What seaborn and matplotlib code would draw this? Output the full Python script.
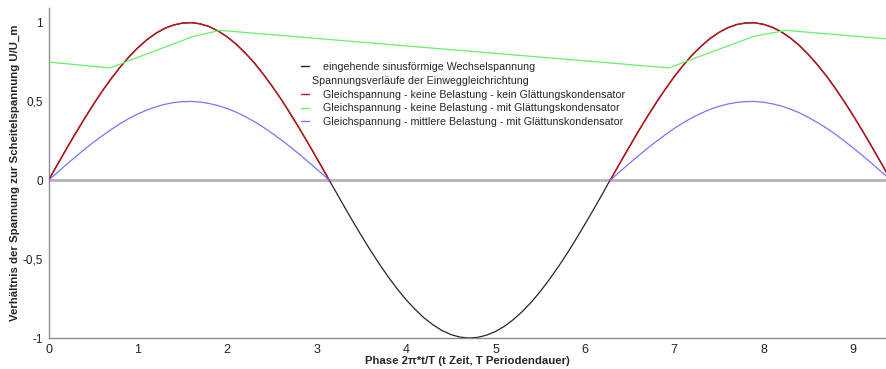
import pandas as pd
import matplotlib
matplotlib.use("Agg")
import matplotlib.pyplot as plt
import seaborn as sns
from matplotlib.lines import Line2D
from matplotlib.ticker import MultipleLocator, FuncFormatter

# -------------------
# Data
# -------------------
phase = [0.0, 0.1, 0.2, 0.3, 0.4, 0.5, 0.6, 0.7, 0.8, 0.9, 1.0, 1.1, 1.2, 1.3,
         1.4, 1.5, 1.6, 1.7, 1.8, 1.9, 2.0, 2.1, 2.2, 2.3, 2.4, 2.5, 2.6, 2.7,
         2.8, 2.9, 3.0, 3.1, 3.14,
         3.2, 3.3, 3.4, 3.5, 3.6, 3.7, 3.8, 3.9, 4.0, 4.1, 4.2, 4.3, 4.4, 4.5,
         4.6, 4.7, 4.8, 4.9, 5.0, 5.1, 5.2, 5.3, 5.4, 5.5, 5.6, 5.7, 5.8, 5.9,
         6.0, 6.1, 6.2,
         6.28, 6.3, 6.4, 6.5, 6.6, 6.7, 6.8, 6.9, 7.0, 7.1, 7.2, 7.3, 7.4, 7.5,
         7.6, 7.7, 7.8, 7.9, 8.0, 8.1, 8.2, 8.3, 8.4, 8.5, 8.6, 8.7, 8.8, 8.9,
         9.0, 9.1, 9.2, 9.3, 9.4]

# positive half waves (0..pi and 2pi..3pi)
red_half1 = [0.000, 0.100, 0.199, 0.296, 0.389, 0.479, 0.565, 0.644, 0.717,
             0.783, 0.841, 0.891, 0.932, 0.964, 0.985, 0.997, 1.000, 0.992,
             0.974, 0.946, 0.909, 0.863, 0.808, 0.746, 0.675, 0.598, 0.516,
             0.427, 0.335, 0.239, 0.141, 0.042, 0.000]
red_half2 = [0.000, 0.017, 0.117, 0.215, 0.312, 0.405, 0.494, 0.578, 0.657,
             0.729, 0.794, 0.850, 0.899, 0.938, 0.968, 0.988, 0.998, 0.999,
             0.989, 0.970, 0.941, 0.902, 0.855, 0.798, 0.734, 0.663, 0.585,
             0.501, 0.412, 0.319, 0.223, 0.124, 0.025]
neg_half = [-0.058, -0.158, -0.256, -0.351, -0.443, -0.530, -0.612, -0.688,
            -0.757, -0.818, -0.872, -0.916, -0.952, -0.978, -0.994, -1.000,
            -0.996, -0.982, -0.959, -0.926, -0.883, -0.832, -0.773, -0.706,
            -0.631, -0.551, -0.465, -0.374, -0.279, -0.182, -0.083]
blue_half1 = [0.000, 0.050, 0.100, 0.148, 0.195, 0.240, 0.282, 0.322, 0.359,
              0.392, 0.421, 0.446, 0.466, 0.482, 0.493, 0.499, 0.500, 0.496,
              0.487, 0.473, 0.455, 0.432, 0.404, 0.373, 0.338, 0.299, 0.258,
              0.214, 0.168, 0.120, 0.071, 0.021, 0.000]
blue_half2 = [0.000, 0.009, 0.059, 0.108, 0.156, 0.203, 0.247, 0.289, 0.329,
              0.365, 0.397, 0.425, 0.450, 0.469, 0.484, 0.494, 0.499, 0.500,
              0.495, 0.485, 0.471, 0.451, 0.428, 0.399, 0.367, 0.332, 0.293,
              0.251, 0.206, 0.160, 0.112, 0.062, 0.013]
gap = [None] * len(neg_half)

ac_input = red_half1 + neg_half + red_half2
no_load_no_cap = red_half1 + gap + red_half2
mid_load_cap = blue_half1 + gap + blue_half2

cap_phase = [0.0, 0.69, 1.62, 1.92, 6.94, 7.89, 8.25, 9.42]
no_load_cap = [0.75, 0.713, 0.913, 0.951, 0.713, 0.913, 0.951, 0.895]

labels = [
    "eingehende sinusförmige Wechselspannung",
    "Spannungsverläufe der Einweggleichrichtung",
    "Gleichspannung - keine Belastung - kein Glättungskondensator",
    "Gleichspannung - keine Belastung - mit Glättungskondensator",
    "Gleichspannung - mittlere Belastung - mit Glättunskondensator",
]

C_BLACK = "#262626"
C_RED = "#c01018"
C_GREEN = "#66f266"
C_BLUE = "#7676ff"
C_AXIS = "#8c8c8c"

# -------------------
# Style
# -------------------
sns.set_style("white")
plt.rcParams["font.family"] = ["Liberation Sans", "DejaVu Sans"]
plt.rcParams["font.size"] = 8.5

fig = plt.figure(figsize=(8.87, 3.69), dpi=100)
ax = fig.add_axes([0.0547, 0.084, 0.9453, 0.894])

df = pd.DataFrame({"x": phase, "sine": ac_input,
                   "red": no_load_no_cap, "blue": mid_load_cap})
df["seg"] = df["red"].isna().cumsum()
df_cap = pd.DataFrame({"x": cap_phase, "green": no_load_cap})

# zero line
ax.axhline(0, color="#b4b4b4", lw=2.0, zorder=1)

sns.lineplot(data=df, x="x", y="sine", color=C_BLACK, lw=0.9,
             estimator=None, sort=False, ax=ax, zorder=2)
half = df.dropna(subset=["red"])
sns.lineplot(data=half, x="x", y="red", units="seg", color=C_RED, lw=1.0,
             estimator=None, sort=False, ax=ax, zorder=3)
sns.lineplot(data=half, x="x", y="blue", units="seg", color=C_BLUE, lw=0.9,
             estimator=None, sort=False, ax=ax, zorder=3)
sns.lineplot(data=df_cap, x="x", y="green", color=C_GREEN, lw=0.9,
             estimator=None, sort=False, ax=ax, zorder=3)

ax.set_xlim(0, 9.38)
ax.set_ylim(-1, 1.092)

# -------------------
# Axes / ticks
# -------------------
for side in ["top", "right"]:
    ax.spines[side].set_visible(False)
for side in ["left", "bottom"]:
    ax.spines[side].set_color(C_AXIS)
    ax.spines[side].set_linewidth(1.0)

ax.xaxis.set_major_locator(MultipleLocator(1))
ax.xaxis.set_minor_locator(MultipleLocator(0.2))
ax.yaxis.set_major_locator(MultipleLocator(0.5))
ax.yaxis.set_minor_locator(MultipleLocator(0.1))
comma = FuncFormatter(lambda v, p: ("%g" % v).replace(".", ","))
ax.xaxis.set_major_formatter(comma)
ax.yaxis.set_major_formatter(comma)

ax.tick_params(axis="both", which="major", length=3.5, width=0.8, color=C_AXIS,
               labelsize=9, labelcolor="#222222", pad=0.8, direction="out")
ax.tick_params(axis="y", which="major", labelsize=8.5, pad=0.5)
ax.tick_params(axis="x", which="minor", length=3, width=0.8, color=C_AXIS,
               direction="in")
ax.tick_params(axis="y", which="minor", length=3, width=0.8, color=C_AXIS,
               direction="out")
ax.tick_params(axis="x", which="major", direction="inout", length=6, pad=1.5)

ax.set_xlabel("Phase 2π*t/T (t Zeit, T Periodendauer)", fontsize=8.2,
              fontweight="bold", labelpad=0)
ax.set_ylabel("Verhältnis der Spannung zur Scheitelspannung U/U_m",
              fontsize=8.2, fontweight="bold")
ax.yaxis.set_label_coords(-0.034, 0.5)
ax.grid(False)

# -------------------
# Legend
# -------------------
handles = [
    Line2D([], [], color=C_BLACK, lw=1.0),
    Line2D([], [], color="none", lw=0),
    Line2D([], [], color=C_RED, lw=1.0),
    Line2D([], [], color=C_GREEN, lw=1.0),
    Line2D([], [], color=C_BLUE, lw=1.0),
]
leg = ax.legend(handles, labels, loc="upper left",
                bbox_to_anchor=(0.301, 0.836), frameon=False,
                handlelength=0.75, handletextpad=1.3, labelspacing=0.35,
                fontsize=7.7, borderaxespad=0, borderpad=0)
leg.get_texts()[1].set_x(-11)

fig.savefig("out.png", dpi=100)
